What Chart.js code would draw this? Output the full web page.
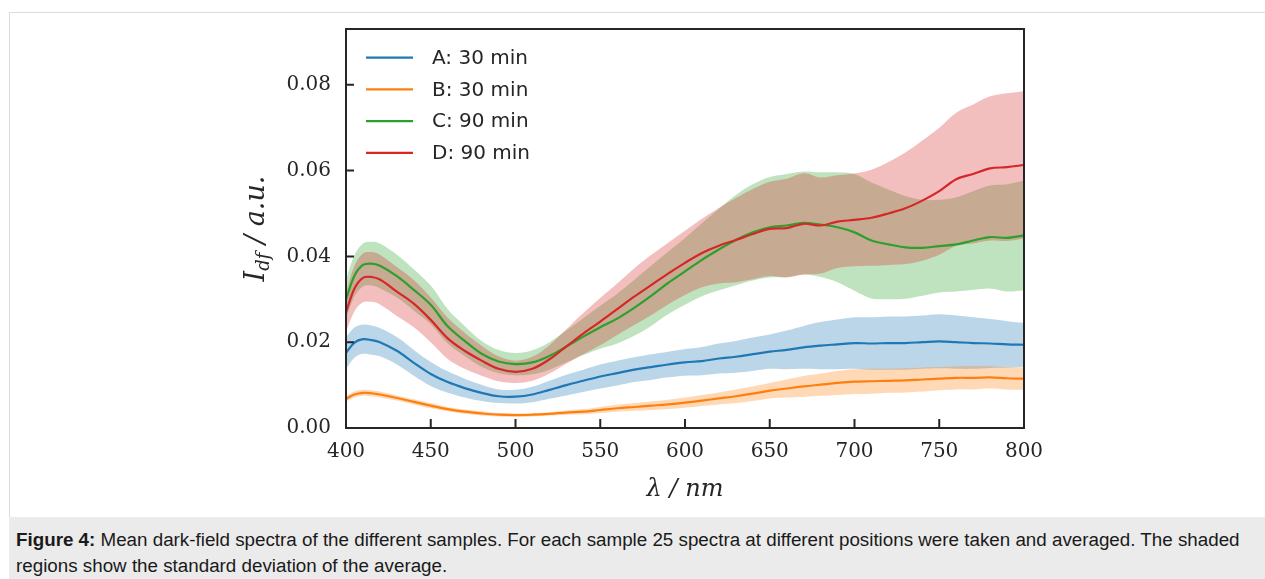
<!DOCTYPE html>
<html>
<head>
<meta charset="utf-8">
<script src="https://cdn.jsdelivr.net/npm/chart.js@4.4.1/dist/chart.umd.min.js"></script>
<style>
  body { margin: 0; background: #fff; width: 1265px; height: 579px; overflow: hidden; position: relative; }
  #fig { position: absolute; left: 9px; top: 12px; width: 1300px; height: 600px; border-left: 1px solid #dcdcdc; border-top: 1px solid #dcdcdc; }
  #plot { position: absolute; left: 10px; top: 13px; }
  #caption { position: absolute; left: 9px; top: 517px; width: 1300px; height: 70px; background: #ebebeb;
             font-family: "Liberation Sans", Arial, sans-serif; font-size: 18.8px; line-height: 26px; color: #1a1a1a;
             padding: 10px 0 0 7px; box-sizing: border-box; white-space: nowrap; }
</style>
</head>
<body>
<div id="fig"></div>
<canvas id="plot" width="1255" height="504"></canvas>
<div id="caption"><b>Figure 4:</b> Mean dark-field spectra of the different samples. For each sample 25 spectra at different positions were taken and averaged. The shaded<br>regions show the standard deviation of the average.</div>
<script>
// wavelength grid (nm)
const wavelength = [400, 405, 410, 415, 420, 430, 440, 450, 460, 470, 480, 490, 500, 510, 520, 530, 540, 550, 560, 570, 580, 590, 600,
  610, 620, 630, 640, 650, 660, 670, 680, 690, 700, 710, 720, 730, 740, 750, 760, 770, 780, 790, 800];

// mean dark-field intensity per sample
const meanA = [.0175, .0199, .0207, .0205, .0200, .0180, .0152, .0126, .0107, .0093, .0082, .0074, .0073,
  .0078, .0089, .0100, .0110, .0120, .0128, .0136, .0142, .0148, .0153,
  .0156, .0162, .0166, .0172, .0178, .0182, .0188, .0192, .0195, .0198,
  .0197, .0198, .0198, .0200, .0202, .0200, .0198, .0197, .0195, .0194];
const meanB = [.0068, .0078, .0082, .0081, .0078, .0070, .0061, .0052, .0044, .0038, .0034, .0031, .0030,
  .0031, .0033, .0036, .0038, .0042, .0046, .0049, .0052, .0055, .0059,
  .0064, .0069, .0074, .0080, .0087, .0092, .0097, .0101, .0105, .0108,
  .0109, .0110, .0111, .0113, .0115, .0117, .0117, .0118, .0116, .0115];
const meanC = [.0300, .0355, .0380, .0383, .0378, .0354, .0322, .0287, .0237, .0203, .0173, .0155, .0149,
  .0153, .0168, .0190, .0213, .0235, .0255, .0280, .0308, .0338, .0365,
  .0392, .0416, .0438, .0456, .0468, .0472, .0478, .0474, .0468, .0456,
  .0437, .0428, .0421, .0420, .0424, .0428, .0437, .0445, .0443, .0449];
const meanD = [.0270, .0325, .0350, .0352, .0346, .0318, .0290, .0252, .0209, .0180, .0157, .0138, .0131,
  .0138, .0160, .0190, .0220, .0248, .0277, .0306, .0333, .0360, .0385,
  .0408, .0425, .0438, .0452, .0464, .0466, .0476, .0472, .0481, .0485,
  .0490, .0500, .0512, .0530, .0552, .0580, .0592, .0605, .0608, .0613];

// standard deviation of the average
const sdA = [.0037, .0035, .0034, .0034, .0033, .0032, .0030, .0028, .0025, .0022, .0019, .0016, .0016,
  .0018, .0021, .0024, .0026, .0028, .0029, .0029, .0030, .0030, .0031,
  .0033, .0035, .0037, .0039, .0040, .0045, .0050, .0055, .0058, .0060,
  .0061, .0062, .0062, .0062, .0063, .0062, .0060, .0057, .0054, .0051];
const sdB = [.0006, .0007, .0007, .0007, .0007, .0006, .0006, .0006, .0005, .0005, .0005, .0004, .0004,
  .0004, .0004, .0005, .0006, .0007, .0008, .0009, .0010, .0011, .0012,
  .0013, .0014, .0016, .0017, .0018, .0021, .0024, .0026, .0028, .0029,
  .0029, .0028, .0028, .0028, .0027, .0027, .0027, .0026, .0026, .0026];
const sdC = [.0045, .0048, .0050, .0051, .0052, .0050, .0048, .0045, .0040, .0035, .0030, .0027, .0026,
  .0028, .0032, .0037, .0043, .0050, .0058, .0065, .0070, .0073, .0078,
  .0085, .0095, .0105, .0112, .0117, .0120, .0120, .0122, .0128, .0136,
  .0135, .0128, .0120, .0112, .0108, .0110, .0115, .0120, .0125, .0128];
const sdD = [.0045, .0053, .0057, .0058, .0058, .0057, .0055, .0052, .0048, .0042, .0035, .0029, .0026,
  .0028, .0033, .0040, .0048, .0055, .0060, .0066, .0070, .0072, .0075,
  .0080, .0088, .0098, .0105, .0110, .0115, .0118, .0112, .0108, .0108,
  .0112, .0120, .0130, .0140, .0148, .0155, .0162, .0168, .0172, .0172];

const seriesLabels = ['A: 30 min', 'B: 30 min', 'C: 90 min', 'D: 90 min'];
const seriesColors = ['#1f77b4', '#ff7f0e', '#2ca02c', '#d62728'];
const xTicks = [400, 450, 500, 550, 600, 650, 700, 750, 800];
const yTicks = [0, 0.02, 0.04, 0.06, 0.08];

const INK = '#262626';
const means = [meanA, meanB, meanC, meanD];
const sds = [sdA, sdB, sdC, sdD];

function rgba(hex, a) {
  const n = parseInt(hex.slice(1), 16);
  return `rgba(${n >> 16}, ${(n >> 8) & 255}, ${n & 255}, ${a})`;
}
const pts = arr => wavelength.map((w, i) => ({ x: w, y: arr[i] }));

// lines first in the list (drawn last), D on top; bands after, A band painted first
const lineSets = [3, 2, 1, 0].map(i => ({
  label: seriesLabels[i],
  data: pts(means[i]),
  borderColor: seriesColors[i],
  borderWidth: 2.2,
  fill: false
}));
const bandSets = [];
[3, 2, 1, 0].forEach(i => {
  const upper = means[i].map((m, k) => m + sds[i][k]);
  const lower = means[i].map((m, k) => m - sds[i][k]);
  bandSets.push({ data: pts(upper), borderColor: 'transparent', borderWidth: 0, backgroundColor: rgba(seriesColors[i], 0.3), fill: '+1' });
  bandSets.push({ data: pts(lower), borderColor: 'transparent', borderWidth: 0, fill: false });
});

const decor = {
  id: 'decor',
  afterDraw(chart) {
    const { ctx, chartArea: a, scales: { x, y } } = chart;
    ctx.save();
    ctx.strokeStyle = INK;
    ctx.lineWidth = 2;
    ctx.strokeRect(a.left, a.top, a.right - a.left, a.bottom - a.top);

    // inward tick marks
    ctx.beginPath();
    xTicks.forEach(v => { const px = x.getPixelForValue(v); ctx.moveTo(px, a.bottom); ctx.lineTo(px, a.bottom - 9); });
    yTicks.forEach(v => { const py = y.getPixelForValue(v); ctx.moveTo(a.left, py); ctx.lineTo(a.left + 8, py); });
    ctx.stroke();

    // legend
    ctx.font = '20px "DejaVu Sans"';
    ctx.textBaseline = 'middle';
    ctx.fillStyle = INK;
    seriesLabels.forEach((lab, i) => {
      const ly = a.top + 28.7 + i * 31.7;
      ctx.strokeStyle = seriesColors[i];
      ctx.lineWidth = 2.2;
      ctx.beginPath();
      ctx.moveTo(a.left + 20, ly);
      ctx.lineTo(a.left + 67, ly);
      ctx.stroke();
      ctx.fillText(lab, a.left + 86, ly + 1);
    });

    // axis titles
    ctx.fillStyle = INK;
    ctx.font = 'italic 24px "DejaVu Serif"';
    ctx.textAlign = 'center';
    ctx.textBaseline = 'alphabetic';
    ctx.fillText('λ / nm', (a.left + a.right) / 2, 483);

    ctx.translate(254, (a.top + a.bottom) / 2);
    ctx.rotate(-Math.PI / 2);
    ctx.textAlign = 'left';
    const big = 'italic 27px "DejaVu Serif"';
    const small = 'italic 18px "DejaVu Serif"';
    ctx.font = big;
    const wI = ctx.measureText('I').width;
    const wRest = ctx.measureText(' / a.u.').width;
    ctx.font = small;
    const wSub = ctx.measureText('df').width;
    let cx = -(wI + wSub + wRest) / 2;
    ctx.font = big;
    ctx.fillText('I', cx, 0);
    cx += wI;
    ctx.font = small;
    ctx.fillText('df', cx, 5);
    cx += wSub;
    ctx.font = big;
    ctx.fillText(' / a.u.', cx, 0);
    ctx.restore();
  }
};

const tickFont = { family: '"DejaVu Serif"', size: 20 };

new Chart(document.getElementById('plot'), {
  type: 'line',
  data: { datasets: [...lineSets, ...bandSets] },
  options: {
    responsive: false,
    animation: false,
    layout: { padding: { top: 16, right: 241, bottom: 0, left: 0 } },
    elements: { point: { radius: 0 }, line: { tension: 0.35 } },
    plugins: {
      legend: { display: false },
      tooltip: { enabled: false },
      filler: { drawTime: 'beforeDatasetsDraw', propagate: false }
    },
    scales: {
      x: {
        type: 'linear', min: 400, max: 800,
        afterBuildTicks: s => { s.ticks = xTicks.map(v => ({ value: v })); },
        afterFit: s => { s.height = 89; s.paddingLeft = 0; s.paddingRight = 0; },
        ticks: { color: INK, font: tickFont, padding: 12, maxRotation: 0, autoSkip: false },
        grid: { display: false, drawTicks: false },
        border: { display: false }
      },
      y: {
        type: 'linear', min: 0, max: 0.093,
        afterBuildTicks: s => { s.ticks = yTicks.map(v => ({ value: v })); },
        afterFit: s => { s.width = 336; s.paddingTop = 0; s.paddingBottom = 0; },
        ticks: { color: INK, font: tickFont, padding: 15, callback: v => v.toFixed(2) },
        grid: { display: false, drawTicks: false },
        border: { display: false }
      }
    }
  },
  plugins: [decor]
});
</script>
</body>
</html>
